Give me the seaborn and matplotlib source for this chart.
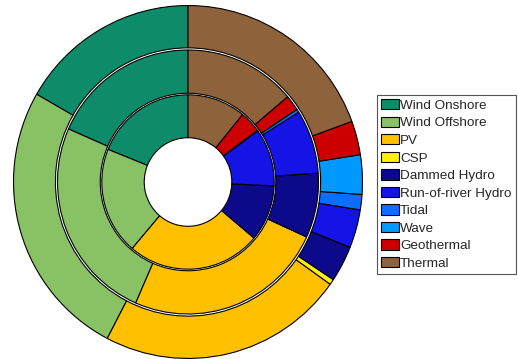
import matplotlib
matplotlib.use('Agg')
import matplotlib.pyplot as plt
import seaborn as sns

# sumber energi (urutan berlawanan jarum jam mulai dari atas)
categories = ['Wind Onshore', 'Wind Offshore', 'PV', 'CSP', 'Dammed Hydro',
              'Run-of-river Hydro', 'Tidal', 'Wave', 'Geothermal', 'Thermal']

# nilai tiap cincin (perkiraan dari gambar, dalam %)
outer_vals = [16.7, 25.6, 22.8, 0.5, 3.3, 3.5, 1.4, 3.6, 3.1, 19.4]
middle_vals = [18.4, 25.0, 24.7, 0.0, 7.9, 7.8, 0.4, 0.0, 1.9, 13.8]
inner_vals = [18.9, 19.9, 25.1, 0.0, 10.4, 10.7, 0.1, 0.0, 4.0, 10.9]

hex_colors = ['#0E8C6A', '#88C265', '#FFC000', '#FFF200', '#0C0A8A',
              '#1414E6', '#0A6EFF', '#0099FF', '#CC0000', '#8E623A']

sns.set_theme(style='white')
plt.rcParams['font.family'] = ['Liberation Sans', 'DejaVu Sans']
palette = sns.color_palette(hex_colors)

fig = plt.figure(figsize=(5.18, 3.59), dpi=100)
W, H = 518, 359
cx, cy, rx, ry = 188, 182, 175, 177
ax = fig.add_axes([(cx - rx) / W, 1 - (cy + ry) / H, 2 * rx / W, 2 * ry / H])

wp = dict(edgecolor='black', linewidth=0.8)

# cincin luar, tengah, dalam
rings = [(outer_vals, 1.0, 0.24), (middle_vals, 0.748, 0.245), (inner_vals, 0.494, 0.243)]
wedges_legend = None
for vals, r, w in rings:
    wedges, _ = ax.pie(vals, colors=palette, startangle=90, counterclock=True,
                       radius=r, wedgeprops=dict(width=w, **wp), normalize=True)
    if wedges_legend is None:
        wedges_legend = wedges

ax.set_aspect('auto')
ax.set_xlim(-1.003, 1.003)
ax.set_ylim(-1.003, 1.003)
ax.axis('off')

leg = fig.legend(wedges_legend, categories, loc='upper left',
                 bbox_to_anchor=(377 / W, 1 - 95 / H), borderaxespad=0,
                 fontsize=9.7, frameon=True, fancybox=False, framealpha=1,
                 edgecolor='#555555', handlelength=1.3, handleheight=0.8,
                 handletextpad=0.12, labelspacing=0.35, borderpad=0.3)
leg.get_frame().set_linewidth(0.8)

plt.savefig('out.png', dpi=100)
